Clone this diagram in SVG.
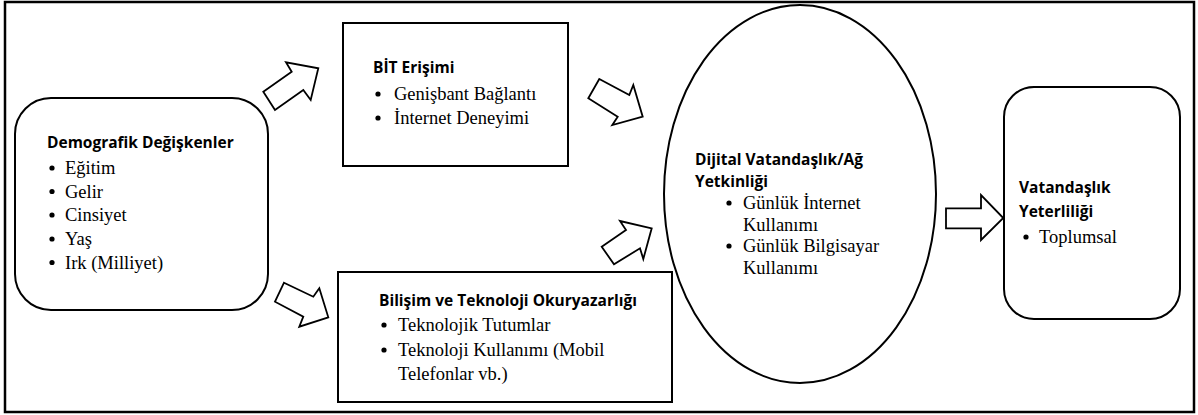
<svg xmlns="http://www.w3.org/2000/svg" width="1198" height="415" viewBox="0 0 1198 415">
<style>
.box{fill:#fff;stroke:#000;stroke-width:2}
.arr{fill:#fff;stroke:#000;stroke-width:1.8;stroke-linejoin:miter}
.t{font-family:"Open Sans","Liberation Sans",sans-serif;font-weight:bold;font-size:15.5px;fill:#000}
.b{font-family:"Liberation Serif","Times New Roman",serif;font-size:18.5px;fill:#000}
.dot{fill:#000}
</style>
<rect x="5" y="2" width="1189" height="410" fill="#fff" stroke="#000" stroke-width="2.5"/>
<g id="demografik">
<rect class="box" x="15" y="98" width="253" height="212" rx="36" ry="36"/>
<text class="t" x="47" y="148">Demografik Değişkenler</text>
<circle class="dot" cx="52" cy="168" r="2.6"/><text class="b" x="65" y="174">Eğitim</text>
<circle class="dot" cx="52" cy="191.5" r="2.6"/><text class="b" x="65" y="197.5">Gelir</text>
<circle class="dot" cx="52" cy="215" r="2.6"/><text class="b" x="65" y="221">Cinsiyet</text>
<circle class="dot" cx="52" cy="239" r="2.6"/><text class="b" x="65" y="245">Yaş</text>
<circle class="dot" cx="52" cy="262.5" r="2.6"/><text class="b" x="65" y="268.5">Irk (Milliyet)</text>
</g>
<g id="bit">
<rect class="box" x="343" y="23" width="225" height="143"/>
<text class="t" x="373" y="73">BİT Erişimi</text>
<circle class="dot" cx="378" cy="94" r="2.6"/><text class="b" x="394" y="100">Genişbant Bağlantı</text>
<circle class="dot" cx="378" cy="118" r="2.6"/><text class="b" x="394" y="124">İnternet Deneyimi</text>
</g>
<g id="bilisim">
<rect class="box" x="338" y="272" width="334" height="130"/>
<text class="t" x="379" y="306">Bilişim ve Teknoloji Okuryazarlığı</text>
<circle class="dot" cx="384" cy="325" r="2.6"/><text class="b" x="398" y="331">Teknolojik Tutumlar</text>
<circle class="dot" cx="384" cy="350" r="2.6"/><text class="b" x="398" y="356">Teknoloji Kullanımı (Mobil</text>
<text class="b" x="398" y="380">Telefonlar vb.)</text>
</g>
<g id="dijital">
<ellipse class="box" cx="800" cy="194" rx="136" ry="189"/>
<text class="t" x="695" y="165">Dijital Vatandaşlık/Ağ</text>
<text class="t" x="695" y="187">Yetkinliği</text>
<circle class="dot" cx="729" cy="203" r="2.6"/><text class="b" x="743" y="209">Günlük İnternet</text>
<text class="b" x="743" y="231">Kullanımı</text>
<circle class="dot" cx="729" cy="246" r="2.6"/><text class="b" x="743" y="252">Günlük Bilgisayar</text>
<text class="b" x="743" y="274">Kullanımı</text>
</g>
<g id="vatandaslik">
<rect class="box" x="1004" y="87" width="176" height="232" rx="30" ry="30"/>
<text class="t" x="1019" y="193">Vatandaşlık</text>
<text class="t" x="1019" y="217">Yeterliliği</text>
<circle class="dot" cx="1026" cy="237" r="2.6"/><text class="b" x="1039" y="243">Toplumsal</text>
</g>
<g id="connectors">
<polygon class="arr" points="275,110 263.3,91.7 291.7,71.7 286,62.3 318.3,68.3 310.7,100 303.3,90"/>
<polygon class="arr" points="284,282.7 313.3,296.7 319.3,288.3 328.3,317.3 299.3,326.7 303.3,316.7 275,301.7"/>
<polygon class="arr" points="599.3,79 629.3,95 633.3,85 642.7,116.7 612.3,125 617.7,116.7 588.3,98.3"/>
<polygon class="arr" points="601.7,246.7 626,230 620,221 651.7,228.3 643.3,259 640,248.3 614,264.3"/>
<polygon class="arr" points="946,208.3 981,208.3 981,195 1003.3,218 981,240 981,228.3 946,228.3"/>
</g>
</svg>
